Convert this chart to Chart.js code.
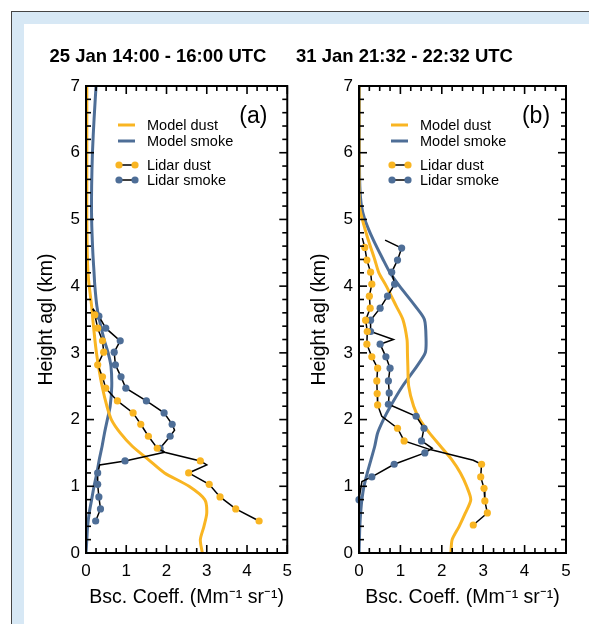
<!DOCTYPE html>
<html><head><meta charset="utf-8">
<script src="https://cdn.jsdelivr.net/npm/chart.js@4/dist/chart.umd.min.js"></script>
<style>
html,body{margin:0;padding:0;background:#fff;width:589px;height:624px;overflow:hidden;position:relative;}
#frame{position:absolute;left:11px;top:11px;width:620px;height:660px;background:#d7e8f5;border-left:1px solid #444;border-top:1px solid #444;}
#inner{position:absolute;left:24px;top:24px;width:620px;height:660px;background:#fff;}
#ca{position:absolute;left:24px;top:24px;}
#cb{position:absolute;left:296px;top:24px;}
</style></head>
<body>
<div id="frame"></div><div id="inner"></div>
<canvas id="ca" width="276" height="600"></canvas>
<canvas id="cb" width="293" height="600"></canvas>
<script>
const FONT = "'Liberation Sans', Arial, Helvetica, sans-serif";
const ORANGE = '#F9B522', BLUE = '#4E6E97';

const titles = ['25 Jan 14:00 - 16:00 UTC', '31 Jan 21:32 - 22:32 UTC'];
const panelLabels = ['(a)', '(b)'];
const legendLabels = ['Model dust', 'Model smoke', 'Lidar dust', 'Lidar smoke'];
const xTitle = 'Bsc. Coeff. (Mm\u207B\u00B9 sr\u207B\u00B9)';
const yTitle = 'Height agl (km)';

// ---- Panel (a): model profiles (height km, backscatter Mm-1 sr-1)
const modelHeightsA = [7,6.5,6,5.5,5,4.5,4.2,4,3.7,3.5,3.2,3,2.8,2.5,2.2,2,1.8,1.6,1.4,1.2,1,0.8,0.6,0.4,0.2,0];
const modelDustA  = [0.02,0.02,0.02,0.02,0.02,0.03,0.05,0.08,0.14,0.17,0.22,0.26,0.31,0.4,0.52,0.63,0.85,1.15,1.55,1.95,2.56,2.95,3.0,2.93,2.84,2.89];
const modelSmokeA = [0.25,0.2,0.16,0.14,0.14,0.17,0.2,0.22,0.27,0.33,0.45,0.55,0.62,0.64,0.6,0.53,0.46,0.4,0.33,0.27,0.2,0.14,0.08,0.04,0.02,0];

// ---- Panel (a): lidar profiles (dots flag: 1 = marker shown)
const lidarDustHA = [3.66,3.57,3.37,3.18,3.01,2.82,2.64,2.47,2.28,2.10,1.93,1.75,1.57,1.51,1.38,1.32,1.20,1.03,0.84,0.66,0.48];
const lidarDustA  = [0.17,0.22,0.29,0.41,0.44,0.29,0.41,0.49,0.78,1.17,1.36,1.55,1.77,1.95,2.84,3.0,2.55,3.06,3.33,3.72,4.3];
const lidarDustDotsA = [0,1,1,1,1,1,1,1,1,1,1,1,1,0,1,0,1,1,1,1,1];
const lidarSmokeHA = [3.66,3.55,3.37,3.18,3.01,2.82,2.64,2.47,2.28,2.10,1.93,1.84,1.75,1.57,1.51,1.38,1.32,1.20,1.03,0.84,0.66,0.48];
const lidarSmokeA  = [0.17,0.32,0.49,0.85,0.70,0.73,0.87,0.99,1.50,1.94,2.14,2.2,2.09,1.84,1.95,0.97,0.34,0.29,0.29,0.32,0.36,0.24];
const lidarSmokeDotsA = [0,1,1,1,1,1,1,1,1,1,1,0,1,1,0,1,0,1,1,1,1,1];

// ---- Panel (b): model profiles
const modelHeightsB = [7,6.5,6,5.5,5.2,5,4.7,4.4,4.2,4,3.7,3.5,3.2,3,2.8,2.5,2.2,2,1.8,1.6,1.4,1.2,1,0.8,0.6,0.4,0.2,0];
const modelDustB  = [0,0,0,0,0.01,0.08,0.22,0.38,0.48,0.66,0.9,1.06,1.16,1.17,1.18,1.2,1.32,1.47,1.7,1.97,2.24,2.45,2.6,2.7,2.57,2.42,2.25,2.22];
const modelSmokeB = [0.01,0.01,0.01,0.02,0.06,0.14,0.34,0.58,0.75,0.98,1.36,1.58,1.62,1.6,1.4,1.05,0.76,0.59,0.45,0.38,0.29,0.2,0.12,0.07,0.04,0.02,0.01,0];

// ---- Panel (b): lidar profiles
const lidarDustHB = [4.72,4.58,4.39,4.21,4.03,3.85,3.67,3.49,3.32,3.13,2.94,2.77,2.58,2.39,2.22,2.05,1.87,1.68,1.55,1.39,1.33,1.14,0.97,0.78,0.60,0.42];
const lidarDustB  = [0.08,0.14,0.19,0.28,0.31,0.25,0.27,0.16,0.2,0.19,0.31,0.45,0.43,0.44,0.45,0.55,0.93,1.09,1.72,2.76,2.96,2.94,3.02,3.04,3.1,2.76];
const lidarDustDotsB = [0,1,1,1,1,1,1,1,1,1,1,1,1,1,1,0,1,1,0,0,1,1,1,1,1,1];
const lidarSmokeHB = [4.69,4.57,4.39,4.21,4.03,3.85,3.67,3.49,3.32,3.2,3.13,2.94,2.77,2.58,2.40,2.23,2.05,1.87,1.68,1.57,1.50,1.33,1.14,1.07,0.80];
const lidarSmokeB  = [0.63,1.03,0.93,0.79,0.86,0.69,0.51,0.28,0.28,0.83,0.51,0.65,0.75,0.71,0.73,0.71,1.38,1.57,1.51,1.77,1.59,0.85,0.31,0.07,0.0];
const lidarSmokeDotsB = [0,1,1,1,1,1,1,1,1,0,1,1,1,1,1,1,1,1,1,0,1,1,1,0,1];

// axis ranges
const xMin = 0, xMax = 5, xMajor = 1, xMinor = 0.25;
const yMin = 0, yMax = 7, yMajor = 1, yMinor = 0.2;

function pts(hs, vs){ return hs.map((h,i)=>({x:vs[i], y:h})); }

const frameTicks = {
  id:'frameTicks',
  afterDatasetsDraw(chart){
    const {ctx, chartArea:{left,right,top,bottom}, scales:{x,y}} = chart;
    ctx.save();
    ctx.strokeStyle = '#000';
    ctx.lineWidth = 1.6;
    const seg = (a,b,c,d)=>{ctx.beginPath();ctx.moveTo(a,b);ctx.lineTo(c,d);ctx.stroke();};
    const nx = Math.round((xMax-xMin)/xMinor), perX = Math.round(xMajor/xMinor);
    for (let i=0;i<=nx;i++){
      const px = x.getPixelForValue(xMin+i*xMinor);
      const L = (i%perX===0)?8:5;
      seg(px,bottom,px,bottom-L); seg(px,top,px,top+L);
    }
    const ny = Math.round((yMax-yMin)/yMinor), perY = Math.round(yMajor/yMinor);
    for (let i=0;i<=ny;i++){
      const py = y.getPixelForValue(yMin+i*yMinor);
      const L = (i%perY===0)?8:5;
      seg(left,py,left+L,py); seg(right,py,right-L,py);
    }
    ctx.lineWidth = 2;
    ctx.strokeRect(left,top,right-left,bottom-top);
    ctx.restore();
  }
};

const profileLegend = {
  id:'profileLegend',
  afterDraw(chart, args, opts){
    const {ctx, chartArea:{left,right,top}} = chart;
    ctx.save();
    // panel label
    ctx.font = '23px ' + FONT;
    ctx.fillStyle = '#000';
    ctx.textAlign = 'center'; ctx.textBaseline = 'middle';
    ctx.fillText(opts.panel, right - opts.panelDx, top + 31);
    // legend
    ctx.font = '14.5px ' + FONT;
    ctx.textAlign = 'left';
    const rows = [top+39, top+55, top+79, top+94];
    const x0 = left + 32, x1 = left + 49, tx = left + 61;
    ctx.lineWidth = 3;
    ctx.strokeStyle = ORANGE; ctx.beginPath(); ctx.moveTo(x0, rows[0]); ctx.lineTo(x1, rows[0]); ctx.stroke();
    ctx.strokeStyle = BLUE; ctx.beginPath(); ctx.moveTo(x0, rows[1]); ctx.lineTo(x1, rows[1]); ctx.stroke();
    [[rows[2],ORANGE],[rows[3],BLUE]].forEach(([ry,c])=>{
      ctx.strokeStyle = '#000'; ctx.lineWidth = 1.5;
      ctx.beginPath(); ctx.moveTo(x0+1, ry); ctx.lineTo(x1, ry); ctx.stroke();
      ctx.fillStyle = c;
      [x0+1, x1].forEach(px=>{ctx.beginPath(); ctx.arc(px, ry, 3.6, 0, Math.PI*2); ctx.fill();});
    });
    ctx.fillStyle = '#000';
    legendLabels.forEach((t,i)=>ctx.fillText(t, tx, rows[i]+1));
    ctx.restore();
  }
};

function makeChart(id, cfg){
  const lidarDs = (hs, vs, dots, color) => ({
    data: pts(hs, vs), showLine: true, borderColor: '#000', borderWidth: 1.5,
    pointBackgroundColor: color, pointBorderColor: color, pointBorderWidth: 0,
    pointRadius: dots.map(d=> d ? 3.6 : 0), tension: 0, order: 1, clip: false
  });
  const modelDs = (hs, vs, color) => ({
    data: pts(hs, vs), showLine: true, borderColor: color, borderWidth: 3,
    pointRadius: 0, tension: 0.25, order: 3
  });
  return new Chart(document.getElementById(id), {
    type: 'scatter',
    data: { datasets: [
      modelDs(cfg.mh, cfg.md, ORANGE),
      modelDs(cfg.mh, cfg.ms, BLUE),
      lidarDs(cfg.ldh, cfg.ld, cfg.ldd, ORANGE),
      lidarDs(cfg.lsh, cfg.ls, cfg.lsd, BLUE)
    ]},
    options: {
      responsive: false, animation: false, devicePixelRatio: 1,
      layout: { padding: { left: 0, right: cfg.padRight, top: 0, bottom: 0 } },
      plugins: {
        legend: { display: false }, tooltip: { enabled: false },
        title: { display: true, text: cfg.title, align: cfg.titleAlign, color: '#000',
                 font: { family: FONT, size: 18.5, weight: 'bold' }, padding: { top: 22, bottom: 17.8 } },
        profileLegend: { panel: cfg.panel, panelDx: cfg.panelDx }
      },
      scales: {
        x: { type: 'linear', min: xMin, max: xMax,
             afterFit: s => { s.height = 71; },
             ticks: { stepSize: xMajor, color: '#000', padding: 8, font: { family: FONT, size: 17 }, maxRotation: 0 },
             grid: { display: false, drawTicks: false }, border: { display: false },
             title: { display: true, text: xTitle, color: '#000', font: { family: FONT, size: 19.5 }, padding: { top: 0, bottom: 15 } } },
        y: { type: 'linear', min: yMin, max: yMax,
             afterFit: s => { s.width = cfg.yWidth; },
             ticks: { stepSize: yMajor, color: '#000', padding: 6, font: { family: FONT, size: 17 } },
             grid: { display: false, drawTicks: false }, border: { display: false },
             title: { display: true, text: yTitle, color: '#000', font: { family: FONT, size: 19.5 }, padding: { top: cfg.yTitlePad, bottom: 0 } } }
      }
    },
    plugins: [frameTicks, profileLegend]
  });
}

makeChart('ca', { title: titles[0], titleAlign: 'center', panel: panelLabels[0], panelDx: 34, padRight: 8, yWidth: 62, yTitlePad: 11,
  mh: modelHeightsA, md: modelDustA, ms: modelSmokeA,
  ldh: lidarDustHA, ld: lidarDustA, ldd: lidarDustDotsA,
  lsh: lidarSmokeHA, ls: lidarSmokeA, lsd: lidarSmokeDotsA });
makeChart('cb', { title: titles[1], titleAlign: 'start', panel: panelLabels[1], panelDx: 30, padRight: 23, yWidth: 63, yTitlePad: 12,
  mh: modelHeightsB, md: modelDustB, ms: modelSmokeB,
  ldh: lidarDustHB, ld: lidarDustB, ldd: lidarDustDotsB,
  lsh: lidarSmokeHB, ls: lidarSmokeB, lsd: lidarSmokeDotsB });
</script>
</body></html>
